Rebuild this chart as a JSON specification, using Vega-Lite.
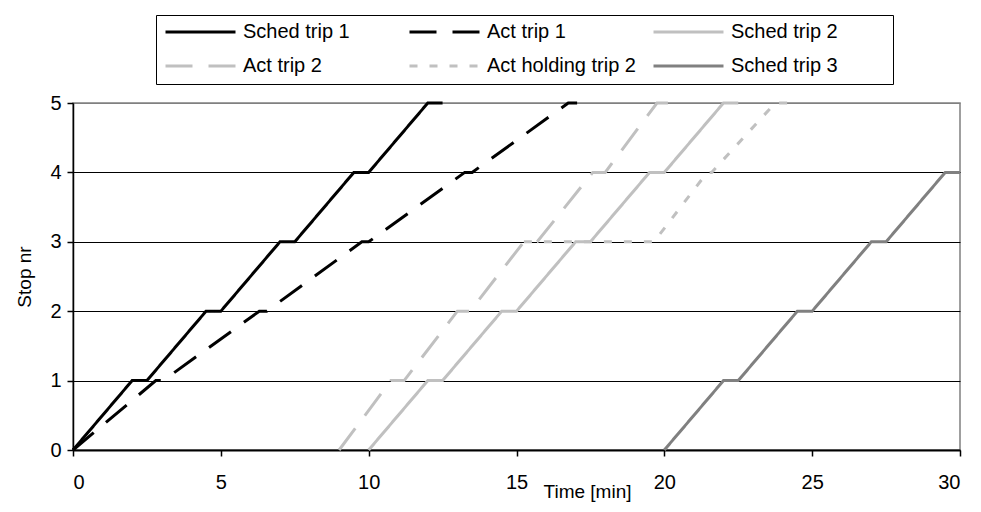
{
  "$schema": "https://vega.github.io/schema/vega-lite/v6.json",
  "width": 887,
  "height": 347,
  "autosize": {"type": "none"},
  "padding": {"left": 73, "top": 103, "right": 21, "bottom": 62},
  "background": "white",
  "config": {
    "font": "Liberation Sans",
    "view": {"stroke": "#808080", "strokeWidth": 1.5},
    "axis": {
      "labelFont": "Liberation Sans",
      "titleFont": "Liberation Sans",
      "labelFontSize": 20,
      "titleFontSize": 19,
      "titleFontWeight": "normal",
      "labelColor": "#000000",
      "titleColor": "#000000",
      "domainColor": "#000000",
      "tickColor": "#000000",
      "tickSize": 6
    },
    "legend": {
      "labelFont": "Liberation Sans",
      "labelFontSize": 20,
      "labelColor": "#000000",
      "strokeColor": "#000000",
      "fillColor": "white",
      "padding": 8,
      "orient": "none",
      "direction": "horizontal",
      "legendX": 83,
      "legendY": -88,
      "columns": 3,
      "gridAlign": "all",
      "columnPadding": 16,
      "rowPadding": 14,
      "clipHeight": 18,
      "symbolType": "stroke",
      "symbolSize": 4900,
      "symbolStrokeWidth": 3,
      "labelOffset": 6,
      "labelLimit": 400,
      "titleOrient": "right",
      "titlePadding": 47,
      "titleFontSize": 8
    }
  },
  "data": {
    "values": [
      {"series": "Sched trip 1", "t": 0, "stop": 0},
      {"series": "Sched trip 1", "t": 2, "stop": 1},
      {"series": "Sched trip 1", "t": 2.5, "stop": 1},
      {"series": "Sched trip 1", "t": 4.5, "stop": 2},
      {"series": "Sched trip 1", "t": 5, "stop": 2},
      {"series": "Sched trip 1", "t": 7, "stop": 3},
      {"series": "Sched trip 1", "t": 7.5, "stop": 3},
      {"series": "Sched trip 1", "t": 9.5, "stop": 4},
      {"series": "Sched trip 1", "t": 10, "stop": 4},
      {"series": "Sched trip 1", "t": 12, "stop": 5},
      {"series": "Sched trip 1", "t": 12.5, "stop": 5},
      {"series": "Act trip 1", "t": 0, "stop": 0},
      {"series": "Act trip 1", "t": 2.8, "stop": 1},
      {"series": "Act trip 1", "t": 3.05, "stop": 1},
      {"series": "Act trip 1", "t": 6.3, "stop": 2},
      {"series": "Act trip 1", "t": 6.55, "stop": 2},
      {"series": "Act trip 1", "t": 9.77, "stop": 3},
      {"series": "Act trip 1", "t": 10, "stop": 3},
      {"series": "Act trip 1", "t": 13.25, "stop": 4},
      {"series": "Act trip 1", "t": 13.5, "stop": 4},
      {"series": "Act trip 1", "t": 16.75, "stop": 5},
      {"series": "Act trip 1", "t": 17.05, "stop": 5},
      {"series": "Sched trip 2", "t": 10, "stop": 0},
      {"series": "Sched trip 2", "t": 12, "stop": 1},
      {"series": "Sched trip 2", "t": 12.5, "stop": 1},
      {"series": "Sched trip 2", "t": 14.5, "stop": 2},
      {"series": "Sched trip 2", "t": 15, "stop": 2},
      {"series": "Sched trip 2", "t": 17, "stop": 3},
      {"series": "Sched trip 2", "t": 17.5, "stop": 3},
      {"series": "Sched trip 2", "t": 19.5, "stop": 4},
      {"series": "Sched trip 2", "t": 20, "stop": 4},
      {"series": "Sched trip 2", "t": 22, "stop": 5},
      {"series": "Sched trip 2", "t": 22.5, "stop": 5},
      {"series": "Act trip 2", "t": 9, "stop": 0},
      {"series": "Act trip 2", "t": 10.75, "stop": 1},
      {"series": "Act trip 2", "t": 11.2, "stop": 1},
      {"series": "Act trip 2", "t": 13, "stop": 2},
      {"series": "Act trip 2", "t": 13.43, "stop": 2},
      {"series": "Act trip 2", "t": 15.25, "stop": 3},
      {"series": "Act trip 2", "t": 15.7, "stop": 3},
      {"series": "Act trip 2", "t": 17.58, "stop": 4},
      {"series": "Act trip 2", "t": 18, "stop": 4},
      {"series": "Act trip 2", "t": 19.75, "stop": 5},
      {"series": "Act trip 2", "t": 20.15, "stop": 5},
      {"series": "Act holding trip 2", "t": 15.25, "stop": 3},
      {"series": "Act holding trip 2", "t": 19.65, "stop": 3},
      {"series": "Act holding trip 2", "t": 21.45, "stop": 4},
      {"series": "Act holding trip 2", "t": 21.6, "stop": 4},
      {"series": "Act holding trip 2", "t": 23.75, "stop": 5},
      {"series": "Act holding trip 2", "t": 24.25, "stop": 5},
      {"series": "Sched trip 3", "t": 20, "stop": 0},
      {"series": "Sched trip 3", "t": 22, "stop": 1},
      {"series": "Sched trip 3", "t": 22.5, "stop": 1},
      {"series": "Sched trip 3", "t": 24.5, "stop": 2},
      {"series": "Sched trip 3", "t": 25, "stop": 2},
      {"series": "Sched trip 3", "t": 27, "stop": 3},
      {"series": "Sched trip 3", "t": 27.5, "stop": 3},
      {"series": "Sched trip 3", "t": 29.5, "stop": 4},
      {"series": "Sched trip 3", "t": 30, "stop": 4}
    ]
  },
  "mark": {"type": "line", "strokeWidth": 3, "clip": false},
  "encoding": {
    "x": {
      "field": "t",
      "type": "quantitative",
      "scale": {"domain": [0, 30], "nice": false, "zero": false},
      "axis": {
        "title": "Time [min]",
        "values": [0, 5, 10, 15, 20, 25, 30],
        "grid": false,
        "domainWidth": 2,
        "tickWidth": 1.5,
        "labelBaseline": "alphabetic",
        "labelPadding": 32,
        "titleX": 514,
        "titleY": 47,
        "titleAlign": "center",
        "titleBaseline": "alphabetic"
      }
    },
    "y": {
      "field": "stop",
      "type": "quantitative",
      "scale": {"domain": [0, 5], "nice": false},
      "axis": {
        "title": "Stop nr",
        "values": [0, 1, 2, 3, 4, 5],
        "grid": true,
        "gridColor": {"condition": {"test": "datum.value === 5", "value": "#808080"}, "value": "#000000"},
        "gridWidth": 1,
        "domainWidth": 1.5,
        "tickWidth": 1.5,
        "labelPadding": 6,
        "titleX": -49,
        "titleY": 173.5,
        "titleAlign": "center",
        "titleBaseline": "middle",
        "titleAngle": -90
      }
    },
    "color": {
      "field": "series",
      "type": "nominal",
      "scale": {
        "domain": ["Sched trip 1", "Act trip 1", "Sched trip 2", "Act trip 2", "Act holding trip 2", "Sched trip 3"],
        "range": ["#000000", "#000000", "#c0c0c0", "#c0c0c0", "#c0c0c0", "#808080"]
      },
      "legend": {"title": " "}
    },
    "strokeDash": {
      "field": "series",
      "type": "nominal",
      "scale": {
        "domain": ["Sched trip 1", "Act trip 1", "Sched trip 2", "Act trip 2", "Act holding trip 2", "Sched trip 3"],
        "range": [[1, 0], [27, 16], [1, 0], [27, 16], [8, 12], [1, 0]]
      },
      "legend": {"title": " "}
    }
  }
}
